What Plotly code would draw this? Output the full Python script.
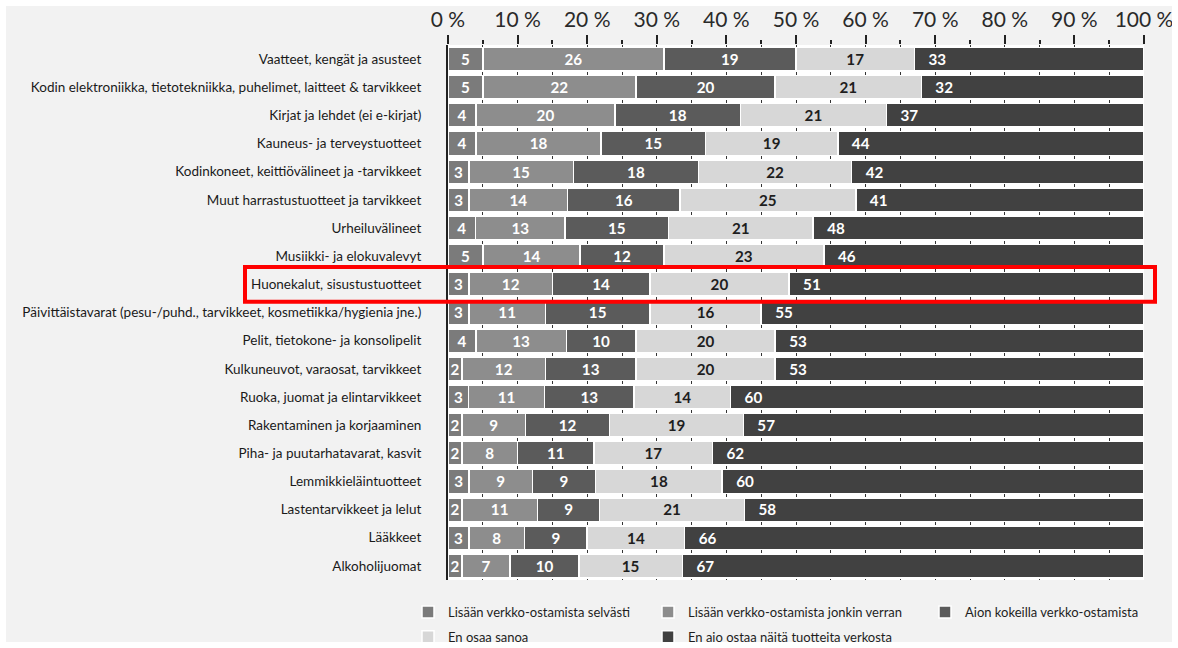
import plotly.graph_objects as go

# Product categories, top to bottom
categories = [
    "Vaatteet, kengät ja asusteet",
    "Kodin elektroniikka, tietotekniikka, puhelimet, laitteet & tarvikkeet",
    "Kirjat ja lehdet (ei e-kirjat)",
    "Kauneus- ja terveystuotteet",
    "Kodinkoneet, keittiövälineet ja -tarvikkeet",
    "Muut harrastustuotteet ja tarvikkeet",
    "Urheiluvälineet",
    "Musiikki- ja elokuvalevyt",
    "Huonekalut, sisustustuotteet",
    "Päivittäistavarat (pesu-/puhd., tarvikkeet, kosmetiikka/hygienia jne.)",
    "Pelit, tietokone- ja konsolipelit",
    "Kulkuneuvot, varaosat, tarvikkeet",
    "Ruoka, juomat ja elintarvikkeet",
    "Rakentaminen ja korjaaminen",
    "Piha- ja puutarhatavarat, kasvit",
    "Lemmikkieläintuotteet",
    "Lastentarvikkeet ja lelut",
    "Lääkkeet",
    "Alkoholijuomat",
]

# Answer shares (%) per category
lisaan_selvasti = [5, 5, 4, 4, 3, 3, 4, 5, 3, 3, 4, 2, 3, 2, 2, 3, 2, 3, 2]
lisaan_jonkin_verran = [26, 22, 20, 18, 15, 14, 13, 14, 12, 11, 13, 12, 11, 9, 8, 9, 11, 8, 7]
aion_kokeilla = [19, 20, 18, 15, 18, 16, 15, 12, 14, 15, 10, 13, 13, 12, 11, 9, 9, 9, 10]
en_osaa_sanoa = [17, 21, 21, 19, 22, 25, 21, 23, 20, 16, 20, 20, 14, 19, 17, 18, 21, 14, 15]
en_aio_ostaa = [33, 32, 37, 44, 42, 41, 48, 46, 51, 55, 53, 53, 60, 57, 62, 60, 58, 66, 67]

highlighted = "Huonekalut, sisustustuotteet"

FONT = "Lato"
series = [
    ("Lisään verkko-ostamista selvästi", lisaan_selvasti, "#7b7b7b", "white", "legend", "middle"),
    ("Lisään verkko-ostamista jonkin verran", lisaan_jonkin_verran, "#8d8d8d", "white", "legend2", "middle"),
    ("Aion kokeilla verkko-ostamista", aion_kokeilla, "#5b5b5b", "white", "legend3", "middle"),
    ("En osaa sanoa", en_osaa_sanoa, "#d7d7d7", "#1e1e1e", "legend", "middle"),
    ("En aio ostaa näitä tuotteita verkosta", en_aio_ostaa, "#414141", "white", "legend2", "start"),
]

fig = go.Figure()
for name, vals, color, tcolor, leg, anchor in series:
    labels = [("\u00a0\u00a0\u00a0" + str(v)) if anchor == "start" else str(v) for v in vals]
    fig.add_trace(go.Bar(
        y=categories,
        x=vals,
        name=name,
        orientation="h",
        marker=dict(color=color, line=dict(color="white", width=1.5)),
        text=labels,
        textposition="inside",
        insidetextanchor=anchor,
        textangle=0,
        textfont=dict(family=FONT, size=15.5, color=tcolor, weight="bold"),
        legend=leg,
        legendgroup=name,
        hoverinfo="skip",
    ))

# plot area in pixels
W, H = 1178, 648
L, R, T, B = 448, 34, 45, 68
pw, ph = W - L - R, H - T - B


def px_x(px):
    return (px - L) / pw


def px_y(py):
    return (H - B - py) / ph


hi = categories.index(highlighted)

legend_common = dict(
    orientation="v",
    yanchor="top",
    y=px_y(597),
    bgcolor="rgba(0,0,0,0)",
    font=dict(family=FONT, size=13, color="#1e1e1e"),
    tracegroupgap=5,
    itemwidth=30,
)

fig.update_layout(
    width=W,
    height=H,
    margin=dict(l=L, r=R, t=T, b=B, pad=0, autoexpand=False),
    paper_bgcolor="#f2f2f2",
    plot_bgcolor="white",
    barmode="stack",
    barnorm="percent",
    bargap=0.16,
    uniformtext=dict(minsize=14, mode="show"),
    font=dict(family=FONT, color="#1e1e1e"),
    xaxis=dict(
        side="top",
        range=[0, 100],
        dtick=10,
        ticksuffix=" %",
        ticks="outside",
        ticklen=9,
        tickwidth=2,
        tickcolor="#222",
        tickfont=dict(family=FONT, size=21, color="#2a2a2a"),
        showgrid=True,
        gridcolor="#333",
        gridwidth=1,
        zeroline=False,
        showline=False,
        minor=dict(dtick=5, ticks="outside", ticklen=4, tickwidth=2, tickcolor="#222",
                   showgrid=True, gridcolor="#333", gridwidth=1),
        fixedrange=True,
    ),
    yaxis=dict(
        type="category",
        autorange="reversed",
        showline=True,
        linecolor="#222",
        linewidth=2,
        ticks="",
        ticklabelstandoff=22,
        tickfont=dict(family=FONT, size=13.5, color="#1a1a1a"),
        showgrid=False,
        fixedrange=True,
    ),
    legend=dict(x=px_x(408), **legend_common),
    legend2=dict(x=px_x(648), **legend_common),
    legend3=dict(x=px_x(925), **legend_common),
    shapes=[
        # highlighted row
        dict(type="rect", xref="paper", yref="y",
             x0=px_x(245), x1=px_x(1155), y0=hi - 0.62, y1=hi + 0.62,
             line=dict(color="#ff0000", width=4), fillcolor="rgba(0,0,0,0)", layer="above"),
        # white outer frame
        dict(type="rect", xref="paper", yref="paper",
             x0=px_x(0), x1=px_x(W), y0=px_y(H), y1=px_y(0),
             line=dict(color="white", width=12), fillcolor="rgba(0,0,0,0)", layer="above"),
    ],
)

fig.write_html("out.html")
